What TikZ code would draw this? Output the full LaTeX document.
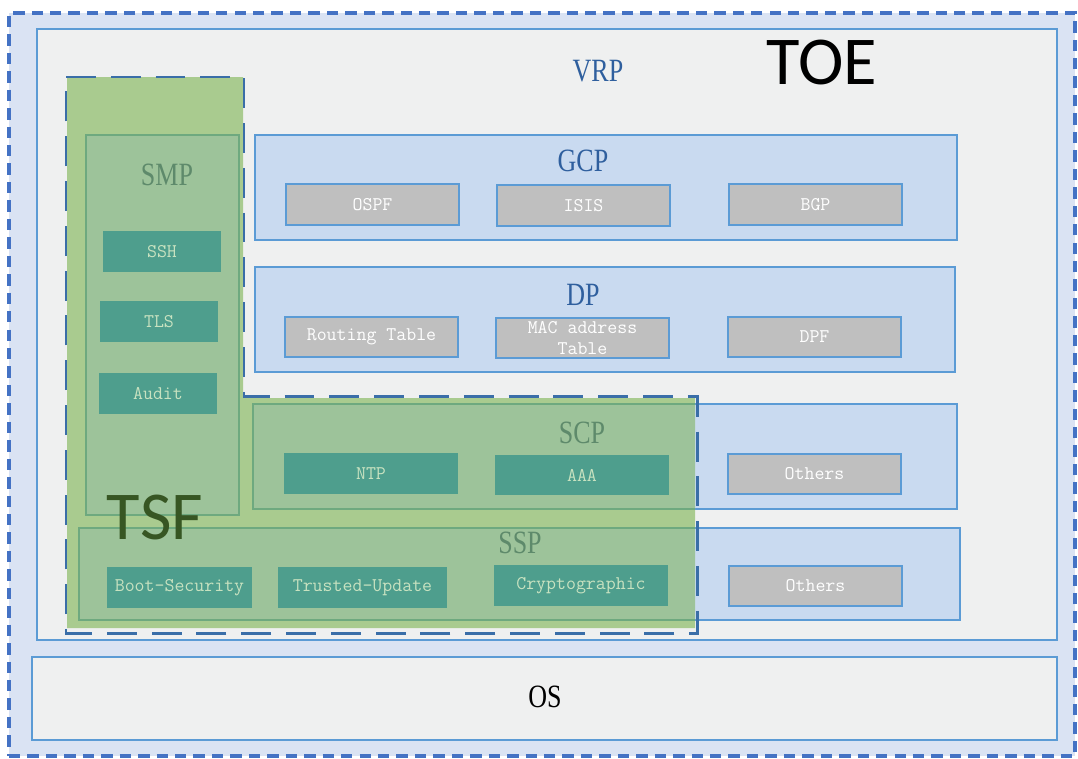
\documentclass[tikz,border=0pt]{standalone}
\usepackage{fontspec}
\setmainfont{Liberation Serif}
\newfontfamily\lblfont[FakeStretch=0.8]{Liberation Serif}
\newfontfamily\calfont{Carlito}
\usetikzlibrary{fit}
\definecolor{outerbg}{HTML}{DAE3F3}
\definecolor{outerdash}{HTML}{4472C4}
\definecolor{vrpbg}{HTML}{EFF0F0}
\definecolor{bordblue}{HTML}{5B9BD5}
\definecolor{boxblue}{HTML}{C9DAF0}
\definecolor{graybox}{HTML}{BFBFBF}
\definecolor{tsfgreen}{HTML}{A9CB8F}
\definecolor{ingreen}{HTML}{9DC39A}
\definecolor{ingreenbord}{HTML}{6EA97F}
\definecolor{tealbox}{HTML}{4E9E8D}
\definecolor{tealtext}{HTML}{C8E2C0}
\definecolor{tsfdash}{HTML}{3A6EA8}
\definecolor{lblblue}{HTML}{2F5F9E}
\definecolor{lblgreen}{HTML}{5E8A6B}
\definecolor{tsftext}{HTML}{375623}
\tikzset{
  rect/.style={inner sep=0pt, outer sep=0pt},
  outerbox/.style={rect, fill=outerbg, draw=outerdash, line width=1.9pt, dash pattern=on 6.5pt off 4pt},
  vrpbox/.style={rect, fill=vrpbg, draw=bordblue, line width=0.6pt},
  layerbox/.style={rect, fill=boxblue, draw=bordblue, line width=0.8pt},
  graybx/.style={rect, fill=graybox, draw=bordblue, line width=1.1pt},
  graytxt/.style={inner sep=0pt, text=white, font=\ttfamily\fontsize{11pt}{11.5pt}\selectfont, align=center},
  tealbx/.style={rect, fill=tealbox},
  tealtxt/.style={inner sep=0pt, text=tealtext, font=\ttfamily\fontsize{11pt}{11.5pt}\selectfont, align=center},
  lbl/.style={font=\lblfont\fontsize{18.5pt}{20pt}\selectfont, inner sep=0pt},
  bigtxt/.style={font=\calfont\fontsize{39pt}{40pt}\selectfont, inner sep=0pt},
  tsfborder/.style={draw=tsfdash, line width=1.7pt, dash pattern=on 17pt off 8.5pt},
}
\begin{document}
\begin{tikzpicture}[x=0.02cm, y=-0.02cm]
\useasboundingbox (0,0) rectangle (1078,758);
\fill[white] (0,0) rectangle (1078,758);
% outer TOE region
\node[outerbox, fit={(9,13)(1075,756)}] (toe) {};
\node[vrpbox, fit={(37,29)(1057,640)}] (vrp) {};
\node[vrpbox, fit={(32,657)(1057,740)}] (os) {};
\node[bigtxt] (toelbl) at (822,62) {TOE};
\node[lbl, text=lblblue] (vrplbl) at (598,71) {VRP};
\node[lbl, text=black] (oslbl) at (545,697) {OS};
% layer boxes
\node[layerbox, fit={(255,135)(957,240)}] (gcp) {};
\node[layerbox, fit={(255,267)(955,372)}] (dp) {};
\node[layerbox, fit={(253,404)(957,509)}] (scp) {};
\node[layerbox, fit={(79,528)(960,620)}] (ssp) {};
\node[lbl, text=lblblue] (gcplbl) at (583,161) {GCP};
\node[lbl, text=lblblue] (dplbl) at (583,295) {DP};
% gray boxes
\node[graybx, fit={(286,184)(459,225)}] (ospf) {};
\node[graytxt] (ospft) at (ospf.center) {OSPF};
\node[graybx, fit={(497,185)(670,226)}] (isis) {};
\node[graytxt] (isist) at (isis.center) {ISIS};
\node[graybx, fit={(729,184)(902,225)}] (bgp) {};
\node[graytxt] (bgpt) at (bgp.center) {BGP};
\node[graybx, fit={(285,317)(458,357)}] (rt) {};
\node[graytxt] (rtt) at (rt.center) {Routing Table};
\node[graybx, fit={(496,318)(669,358)}] (mac) {};
\node[graytxt] (mact) at (mac.center) {MAC address\\Table};
\node[graybx, fit={(728,317)(901,357)}] (dpf) {};
\node[graytxt] (dpft) at (dpf.center) {DPF};
\node[graybx, fit={(728,454)(901,494)}] (oth1) {};
\node[graytxt] (oth1t) at (oth1.center) {Others};
\node[graybx, fit={(729,566)(902,606)}] (oth2) {};
\node[graytxt] (oth2t) at (oth2.center) {Others};
% TSF green region
\fill[tsfgreen] (67,77) -- (243,77) -- (243,398) -- (695,398) -- (695,628) -- (67,628) -- cycle;
% green parts of boxes inside TSF
\fill[ingreen] (253,404) rectangle (695,509);
\draw[ingreenbord, line width=0.6pt] (695,404) -- (253,404) -- (253,509) -- (695,509);
\fill[ingreen] (79,528) rectangle (695,620);
\draw[ingreenbord, line width=0.6pt] (695,528) -- (79,528) -- (79,620) -- (695,620);
\node[rect, fill=ingreen, draw=ingreenbord, line width=0.6pt, fit={(86,135)(239,515)}] (smp) {};
\node[lbl, text=lblgreen] (smplbl) at (167,175) {SMP};
\node[lbl, text=lblgreen] (scplbl) at (582,433) {SCP};
\node[lbl, text=lblgreen] (ssplbl) at (520,543) {SSP};
% teal boxes
\node[tealbx, fit={(103,231)(221,272)}] (ssh) {};
\node[tealtxt] (ssht) at (ssh.center) {SSH};
\node[tealbx, fit={(100,301)(218,342)}] (tls) {};
\node[tealtxt] (tlst) at (tls.center) {TLS};
\node[tealbx, fit={(99,373)(217,414)}] (audit) {};
\node[tealtxt] (auditt) at (audit.center) {Audit};
\node[tealbx, fit={(284,453)(458,494)}] (ntp) {};
\node[tealtxt] (ntpt) at (ntp.center) {NTP};
\node[tealbx, fit={(495,455)(669,495)}] (aaa) {};
\node[tealtxt] (aaat) at (aaa.center) {AAA};
\node[tealbx, fit={(107,567)(252,608)}] (boot) {};
\node[tealtxt] (boott) at (boot.center) {Boot-Security};
\node[tealbx, fit={(278,567)(447,608)}] (tup) {};
\node[tealtxt] (tupt) at (tup.center) {Trusted-Update};
\node[tealbx, fit={(494,565)(668,606)}] (crypto) {};
\node[tealtxt] (cryptot) at (crypto.center) {Cryptographic};
% TSF dashed border
\draw[tsfborder] (66,77) -- (244,77) -- (244,396) -- (697,396) -- (697,633) -- (66,633) -- cycle;
\node[bigtxt, text=tsftext] (tsflbl) at (155,517) {TSF};
\end{tikzpicture}
\end{document}
